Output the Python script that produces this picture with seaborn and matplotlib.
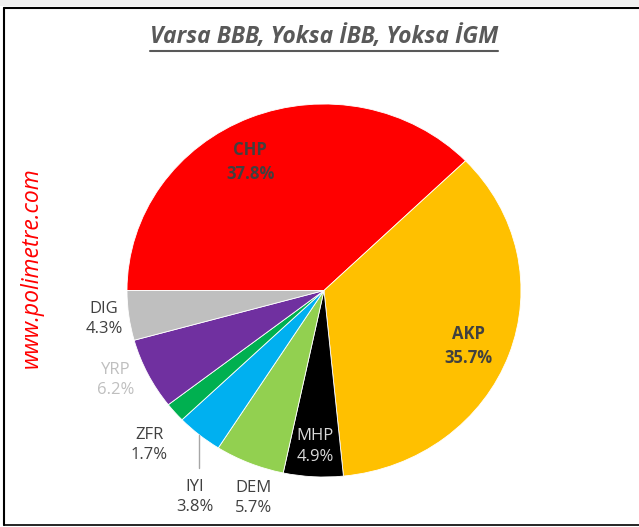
import matplotlib
matplotlib.use("Agg")
import matplotlib.pyplot as plt
from matplotlib.lines import Line2D
from matplotlib.patches import Rectangle
import numpy as np
import seaborn as sns

# Veriler
parties = ["CHP", "AKP", "MHP", "DEM", "IYI", "ZFR", "YRP", "DIG"]
shares = [37.8, 35.7, 4.9, 5.7, 3.8, 1.7, 6.2, 4.3]
colors = ["#FF0000", "#FFC000", "#000000", "#92D050", "#00B0F0", "#00B050", "#7030A0", "#BFBFBF"]

# Etiket görünümü
label_colors = ["#404040", "#404040", "#D9D9D9", "#404040", "#404040", "#404040", "#BFBFBF", "#404040"]
label_bold = [True, True, False, False, False, False, False, False]
label_xy = [(-0.375, 0.69), (0.731, -0.297), (-0.046, -0.838), (-0.36, -1.113),
            (-0.655, -1.107), (-0.888, -0.828), (-1.056, -0.48), (-1.117, -0.153)]

title = "Varsa BBB, Yoksa İBB, Yoksa İGM"
watermark = "www.polimetre.com"

sns.set_theme(style="white")
plt.rcParams["font.family"] = ["Open Sans", "DejaVu Sans"]

W, H = 639, 527
fig = plt.figure(figsize=(W / 100, H / 100), dpi=100)
fig.patch.set_facecolor("white")

# pie merkezi ve yarıçap (piksel)
cx, cy, rx, ry = 324, 290.5, 197, 186.5
lim = 1.3
ax = fig.add_axes([(cx - lim * rx) / W, (H - cy - lim * ry) / H,
                   2 * lim * rx / W, 2 * lim * ry / H])

wedges, _ = ax.pie(shares, colors=colors, startangle=180, counterclock=False,
                   wedgeprops=dict(edgecolor="white", linewidth=0.6))
ax.set_aspect("auto")
ax.set_xlim(-lim, lim)
ax.set_ylim(-lim, lim)
ax.axis("off")

for i, (name, val) in enumerate(zip(parties, shares)):
    x, y = label_xy[i]
    ax.text(x, y, f"{name}\n{val:.1f}%", ha="center", va="center",
            fontsize=12, color=label_colors[i], linespacing=1.4,
            fontweight="bold" if label_bold[i] else "normal")

# IYI leader line
w = wedges[parties.index("IYI")]
mid = np.deg2rad((w.theta1 + w.theta2) / 2)
ax.plot([np.cos(mid), np.cos(mid)], [np.sin(mid), -0.95], color="#A6A6A6", lw=1)

# Başlık
t = fig.text(324 / W, 1 - 37 / H, title, ha="center", va="center", fontsize=16.5,
             fontweight="bold", fontstyle="italic", color="#595959")
fig.canvas.draw()
bb = t.get_window_extent().transformed(fig.transFigure.inverted())
fig.add_artist(Line2D([bb.x0, bb.x1], [bb.y0 - 0.003, bb.y0 - 0.003],
                      transform=fig.transFigure, color="#595959", lw=1.5))

# Filigran
fig.text(32 / W, 1 - 268 / H, watermark, rotation=90, ha="center", va="center",
         fontsize=16.5, fontstyle="italic", color="#FF0000")

# Çerçeve
fig.add_artist(Rectangle((0, 1 - 6 / H), 1, 6 / H, transform=fig.transFigure,
                         facecolor="#EFEFEF", edgecolor="none"))
fig.add_artist(Line2D([4 / W, 1], [1 - 7.5 / H, 1 - 7.5 / H], transform=fig.transFigure,
                      color="black", lw=1.5))
fig.add_artist(Line2D([4 / W, 4 / W], [1 - 7.5 / H, 1 - 525 / H], transform=fig.transFigure,
                      color="black", lw=1.5))
fig.add_artist(Line2D([4 / W, 1], [1 - 525 / H, 1 - 525 / H], transform=fig.transFigure,
                      color="black", lw=1.2))

fig.savefig("out.png", dpi=100)
